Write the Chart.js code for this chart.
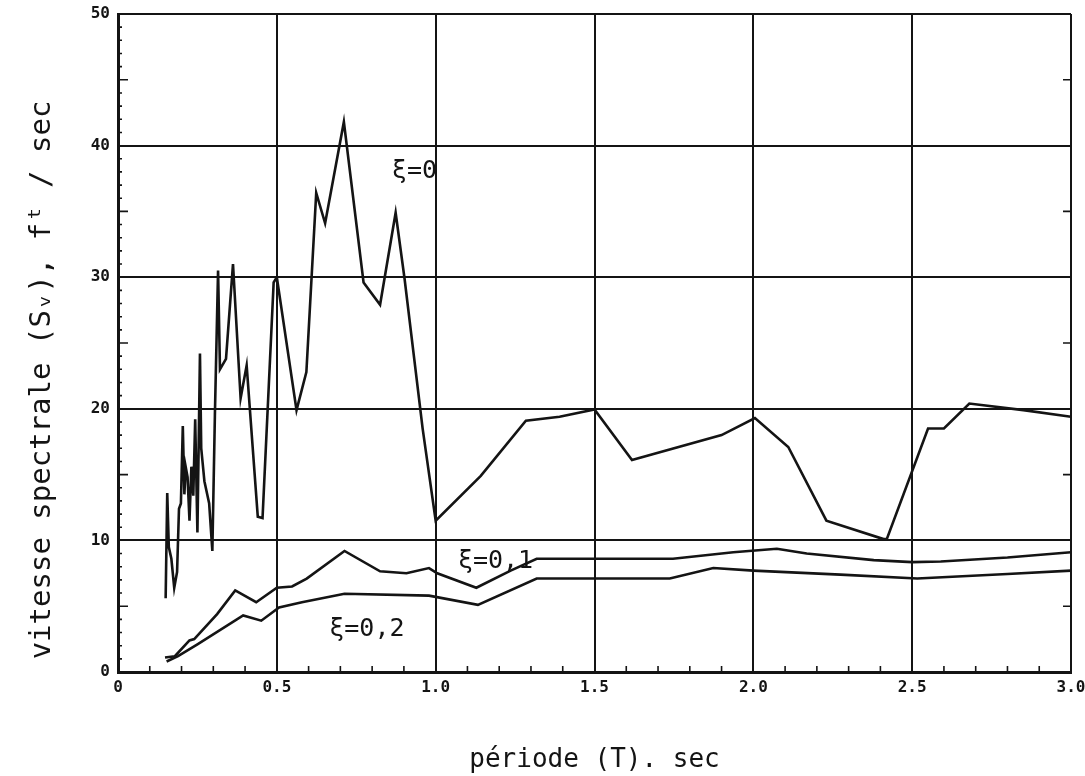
<!DOCTYPE html>
<html lang="fr">
<head>
<meta charset="utf-8">
<title>Vitesse spectrale</title>
<script src="https://cdn.jsdelivr.net/npm/chart.js@4.4.1/dist/chart.umd.min.js"></script>
<style>
  html, body { margin: 0; padding: 0; background: #fff; }
  #wrap { width: 1085px; height: 776px; }
</style>
</head>
<body>
<div id="wrap"><canvas id="spectre" width="1085" height="776"></canvas></div>
<script>
// periods T (sec) and spectral velocity Sv (ft/sec)
const periodesXi0 = [
  0.150, 0.155, 0.160, 0.168, 0.177, 0.186, 0.192, 0.198, 0.204, 0.209,
  0.213, 0.219, 0.225, 0.231, 0.237, 0.243, 0.250, 0.258, 0.262, 0.272,
  0.287, 0.297, 0.305, 0.315, 0.321, 0.340, 0.362, 0.386, 0.405, 0.440,
  0.455, 0.490, 0.500, 0.562, 0.593, 0.624, 0.652, 0.711, 0.773, 0.825,
  0.874, 0.902, 0.959, 1.000, 1.142, 1.284, 1.390, 1.500, 1.618, 1.900,
  2.005, 2.110, 2.230, 2.410, 2.420, 2.550, 2.600, 2.680, 2.850, 3.000
];
const vitessesXi0 = [
  5.6, 13.6, 9.5, 8.6, 6.4, 7.6, 12.4, 12.8, 18.7, 13.5,
  15.6, 14.8, 11.5, 15.6, 13.4, 19.2, 10.6, 24.2, 17.0, 14.5,
  12.8, 9.2, 19.5, 30.5, 23.0, 23.8, 31.0, 20.8, 23.3, 11.8,
  11.7, 29.6, 30.0, 19.9, 22.8, 36.4, 34.1, 41.8, 29.6, 27.9,
  34.9, 29.9, 18.5, 11.5, 14.9, 19.1, 19.4, 19.95, 16.1, 18.0,
  19.3, 17.1, 11.5, 10.1, 10.1, 18.5, 18.5, 20.4, 19.9, 19.4
];

const periodesXi01 = [
  0.148, 0.179, 0.225, 0.240, 0.312, 0.369, 0.435, 0.500, 0.548, 0.594,
  0.713, 0.825, 0.908, 0.979, 1.005, 1.128, 1.236, 1.318, 1.747, 1.937,
  2.074, 2.168, 2.379, 2.500, 2.590, 2.800, 3.000
];
const vitessesXi01 = [
  1.1, 1.2, 2.4, 2.5, 4.4, 6.2, 5.3, 6.4, 6.5, 7.1,
  9.2, 7.65, 7.5, 7.9, 7.5, 6.4, 7.7, 8.6, 8.6, 9.1,
  9.37, 9.0, 8.5, 8.35, 8.4, 8.7, 9.1
];

const periodesXi02 = [
  0.153, 0.189, 0.250, 0.394, 0.451, 0.507, 0.579, 0.713, 0.979, 1.133,
  1.318, 1.737, 1.874, 2.000, 2.274, 2.516, 2.800, 3.000
];
const vitessesXi02 = [
  0.8, 1.2, 2.1, 4.3, 3.9, 4.9, 5.3, 5.95, 5.8, 5.1,
  7.1, 7.1, 7.9, 7.7, 7.4, 7.1, 7.45, 7.7
];

const xTickLabels = ["0", "0.5", "1.0", "1.5", "2.0", "2.5", "3.0"];
const yTickLabels = ["0", "10", "20", "30", "40", "50"];

const INK = "#141414";
const MONO = "'DejaVu Sans Mono', 'Liberation Mono', monospace";

const toPoints = (xs, ys) => xs.map((x, i) => ({ x: x, y: ys[i] }));

const curve = (label, xs, ys) => ({
  label: label,
  data: toPoints(xs, ys),
  borderColor: INK,
  borderWidth: 2.6,
  pointRadius: 0,
  tension: 0,
  fill: false
});

// small inward ticks along the frame, damping labels, y title
const decorations = {
  id: "decorations",
  afterDatasetsDraw(chart) {
    const { ctx, chartArea: a, scales: { x, y } } = chart;
    ctx.save();
    ctx.strokeStyle = INK;
    ctx.lineWidth = 1.6;
    ctx.beginPath();
    for (let i = 1; i < 30; i++) {
      if (i % 5 === 0) continue;
      const px = x.getPixelForValue(i / 10);
      ctx.moveTo(px, a.bottom);
      ctx.lineTo(px, a.bottom - 6);
    }
    for (let v = 1; v < 50; v++) {
      if (v % 10 === 0) continue;
      const py = y.getPixelForValue(v);
      const len = v % 5 === 0 ? 10 : 4;
      ctx.moveTo(a.left, py);
      ctx.lineTo(a.left + len, py);
      if (v % 5 === 0) {
        ctx.moveTo(a.right, py);
        ctx.lineTo(a.right - 8, py);
      }
    }
    ctx.stroke();

    const notes = [
      { text: "ξ=0", t: 0.862, v: 38.0 },
      { text: "ξ=0,1", t: 1.070, v: 8.4 },
      { text: "ξ=0,2", t: 0.665, v: 3.2 }
    ];
    ctx.fillStyle = INK;
    ctx.font = "25px " + MONO;
    ctx.textAlign = "left";
    ctx.textBaseline = "middle";
    notes.forEach(n => {
      ctx.fillText(n.text, x.getPixelForValue(n.t), y.getPixelForValue(n.v));
    });

    // axis title, placed like the scan (a bit below the plot centre)
    ctx.translate(42, 380);
    ctx.rotate(-Math.PI / 2);
    ctx.font = "29px " + MONO;
    ctx.textAlign = "center";
    ctx.fillText("vitesse spectrale (Sᵥ), fᵗ / sec", 0, 0);
    ctx.restore();
  }
};

Chart.defaults.font.family = MONO;
Chart.defaults.color = INK;

new Chart(document.getElementById("spectre"), {
  type: "line",
  data: {
    datasets: [
      curve("ξ=0", periodesXi0, vitessesXi0),
      curve("ξ=0,1", periodesXi01, vitessesXi01),
      curve("ξ=0,2", periodesXi02, vitessesXi02)
    ]
  },
  options: {
    responsive: false,
    animation: false,
    devicePixelRatio: 1,
    layout: { padding: { top: 14, right: 14, left: 0, bottom: 0 } },
    plugins: {
      legend: { display: false },
      tooltip: { enabled: false }
    },
    scales: {
      x: {
        type: "linear",
        min: 0,
        max: 3,
        afterFit: s => { s.height = 104; s.paddingLeft = 0; s.paddingRight = 0; },
        ticks: {
          stepSize: 0.5,
          padding: 6,
          font: { size: 16, weight: "bold" },
          callback: (val, i) => xTickLabels[i]
        },
        grid: { color: INK, lineWidth: 2, drawTicks: false },
        border: { color: INK, width: 3 },
        title: {
          display: true,
          text: "période (T). sec",
          font: { size: 26 },
          padding: { top: 10, bottom: 0 }
        }
      },
      y: {
        min: 0,
        max: 50,
        afterFit: s => { s.width = 118; s.paddingTop = 0; s.paddingBottom = 0; },
        ticks: {
          stepSize: 10,
          padding: 8,
          font: { size: 16, weight: "bold" },
          callback: (val, i) => yTickLabels[i]
        },
        grid: { color: INK, lineWidth: 2, drawTicks: false },
        border: { color: INK, width: 3 }
      }
    }
  },
  plugins: [decorations]
});
</script>
</body>
</html>
